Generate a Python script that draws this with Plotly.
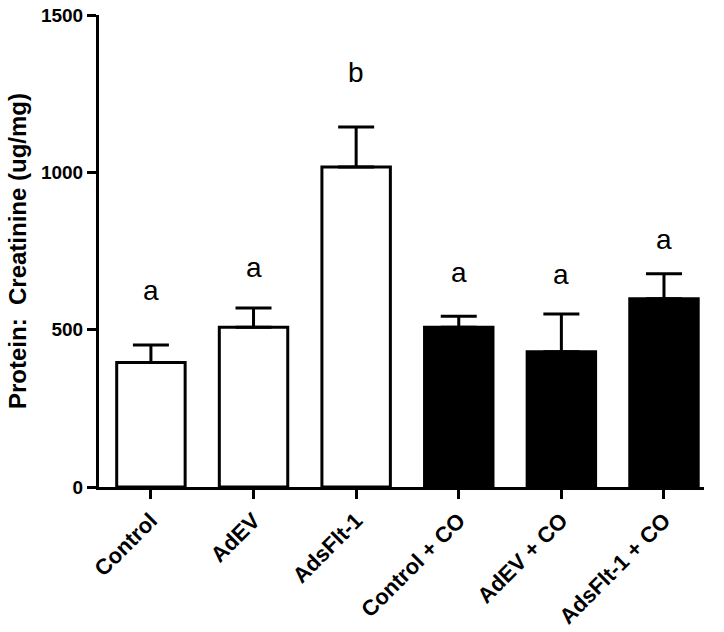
import plotly.graph_objects as go

categories = ["Control", "AdEV", "AdsFlt-1", "Control + CO", "AdEV + CO", "AdsFlt-1 + CO"]
means = [396, 508, 1017, 508, 430, 598]
sem = [55, 61, 127, 35, 120, 80]
letters = ["a", "a", "b", "a", "a", "a"]
letter_y = [626, 699, 1316, 683, 674, 785]
fill_colors = ["white", "white", "white", "black", "black", "black"]
y_ticks = [0, 500, 1000, 1500]
y_title = "Protein:\u00a0 Creatinine (ug/mg)"

FONT = "Liberation Sans, Arial"
W, H = 724, 632
L, R, T, B = 99, 20, 15, 145
plot_w = W - L - R

fig = go.Figure()
fig.add_trace(go.Bar(
    x=categories, y=means,
    marker=dict(color=fill_colors, line=dict(color="black", width=3)),
    width=0.667,
    error_y=dict(type="data", array=sem, arrayminus=[0] * len(sem), symmetric=False,
                 color="black", thickness=3, width=18),
    showlegend=False,
))

for c, l, yv in zip(categories, letters, letter_y):
    fig.add_annotation(x=c, y=yv, text=l, showarrow=False, yanchor="middle",
                       font=dict(family=FONT, size=28, color="black"))

fig.add_annotation(xref="paper", yref="paper", x=(17 - L) / plot_w, y=0.5,
                   text=y_title, textangle=-90, showarrow=False,
                   xanchor="center", yanchor="middle",
                   font=dict(family=FONT, size=24, color="black", weight="bold"))

fig.update_layout(
    width=W, height=H,
    margin=dict(l=L, r=R, t=T, b=B, autoexpand=False),
    plot_bgcolor="white", paper_bgcolor="white",
    font=dict(family=FONT, color="black"),
)
fig.update_xaxes(
    range=[-0.506, 5.39], showline=True, linecolor="black", linewidth=3,
    ticks="outside", ticklen=9, tickwidth=3, tickcolor="black", automargin=False,
    tickangle=-45, tickfont=dict(size=22, family=FONT, weight="bold"),
    showgrid=False, zeroline=False,
)
fig.update_yaxes(
    range=[0, 1500], tickvals=y_ticks, showline=True, linecolor="black", linewidth=3,
    ticks="outside", ticklen=9, tickwidth=3, tickcolor="black", automargin=False,
    tickfont=dict(size=19, family=FONT, weight="bold"),
    showgrid=False, zeroline=False,
)

fig.write_html("out.html", config={"displayModeBar": False},
               post_script="document.body.style.margin='0';")
